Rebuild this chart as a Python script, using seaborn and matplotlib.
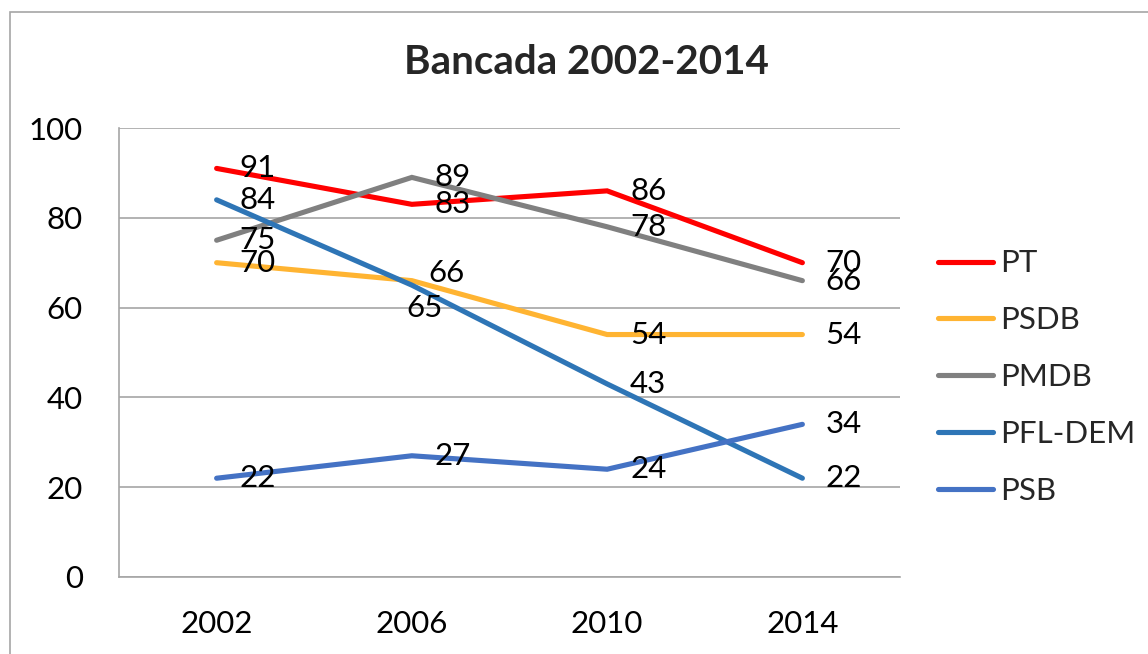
import matplotlib
matplotlib.use("Agg")
import matplotlib.pyplot as plt
from matplotlib.patches import Rectangle
import seaborn as sns
import pandas as pd

years = ["2002", "2006", "2010", "2014"]
parties = ["PT", "PSDB", "PMDB", "PFL-DEM", "PSB"]
pt = [91, 83, 86, 70]
psdb = [70, 66, 54, 54]
pmdb = [75, 89, 78, 66]
pfl_dem = [84, 65, 43, 22]
psb = [22, 27, 24, 34]
title = "Bancada 2002-2014"

colors = ["#FF0000", "#FFB432", "#808080", "#2E75B6", "#4472C4"]

series = {"PT": pt, "PSDB": psdb, "PMDB": pmdb, "PFL-DEM": pfl_dem, "PSB": psb}
rows = []
for p in parties:
    for i, y in enumerate(years):
        rows.append({"pos": i, "year": y, "party": p, "value": series[p][i]})
df = pd.DataFrame(rows)

sns.set_theme(style="white")
plt.rcParams["font.family"] = ["Lato", "DejaVu Sans"]

fig = plt.figure(figsize=(11.48, 6.54), dpi=100)
ax = fig.add_axes([119 / 1148, 1 - 577 / 654, 781 / 1148, 449 / 654])

sns.lineplot(data=df, x="pos", y="value", hue="party", hue_order=parties,
             palette=colors, linewidth=3.7, sort=False, ax=ax, legend=True)
for ln in ax.lines:
    ln.set_solid_capstyle("round")
    ln.set_solid_joinstyle("miter")

ax.set_xlim(-0.5, 3.5)
ax.set_ylim(0, 100)
ax.set_yticks([0, 20, 40, 60, 80, 100])
ax.set_xticks(range(len(years)))
ax.set_xticklabels(years)
ax.set_xlabel("")
ax.set_ylabel("")
ax.tick_params(axis="y", labelsize=22.5, pad=26, length=0, colors="black")
ax.tick_params(axis="x", labelsize=22.5, pad=24, length=0, colors="black")
ax.yaxis.grid(True, color="#A6A6A6", linewidth=1.2)
ax.set_axisbelow(True)
for s in ["top", "right"]:
    ax.spines[s].set_visible(False)
for s in ["left", "bottom"]:
    ax.spines[s].set_color("#A6A6A6")
    ax.spines[s].set_linewidth(1.2)

# data labels (px offsets, converted to points)
px = 72 / 100
adjust = {("PFL-DEM", 1): (-5, -23), ("PSDB", 1): (16, 8)}
for p in parties:
    for i, v in enumerate(series[p]):
        dx, dy = adjust.get((p, i), (23, 0))
        ax.annotate(str(v), (i, v), xytext=(dx * px, dy * px),
                    textcoords="offset points", ha="left", va="center",
                    fontsize=22.5, color="black")

h, l = ax.get_legend_handles_labels()
ax.get_legend().remove()
for hh in h:
    hh.set_linewidth(3.7)
    hh.set_solid_capstyle("round")
fig.legend(h, l, loc="center left", bbox_to_anchor=(938 / 1148, 1 - 377 / 654),
           frameon=False, fontsize=22.5, handlelength=1.75, handletextpad=0.25,
           labelspacing=0.92, borderpad=0, borderaxespad=0)

fig.text(586 / 1148, 1 - 63 / 654, title, ha="center", va="center",
         fontsize=29, fontweight="bold")

fig.patches.append(Rectangle((10 / 1148, -0.1), 1.2, 1.1 - 12 / 654,
                             transform=fig.transFigure, fill=False,
                             edgecolor="#A6A6A6", linewidth=1.2))

fig.savefig("out.png", dpi=100)
